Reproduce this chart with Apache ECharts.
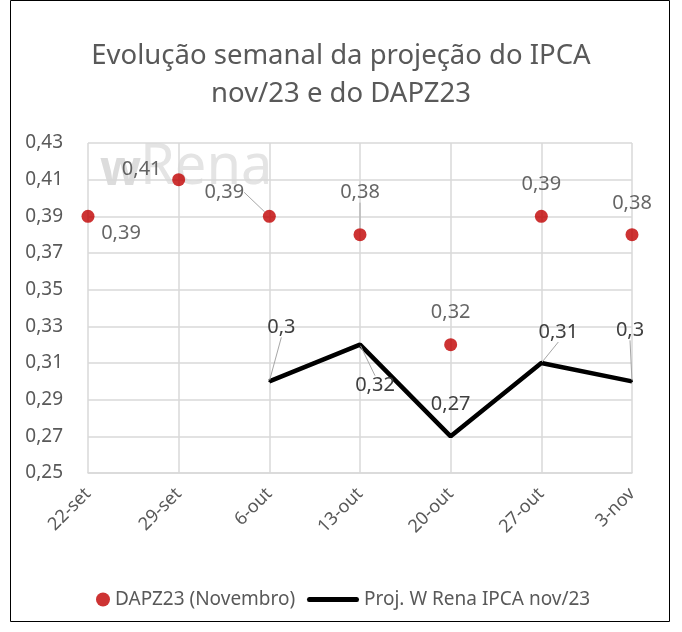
<!DOCTYPE html>
<html>
<head>
<meta charset="utf-8">
<script src="https://cdn.jsdelivr.net/npm/echarts@6/dist/echarts.min.js"></script>
<style>
  html, body { margin: 0; padding: 0; background: #fff; }
  #chart { width: 682px; height: 632px; }
</style>
</head>
<body>
<div id="chart"></div>
<script>
// dados
const semanas = ['22-set', '29-set', '6-out', '13-out', '20-out', '27-out', '3-nov'];
const dapz23 = [0.39, 0.41, 0.39, 0.38, 0.32, 0.39, 0.38];
const projRena = [null, null, 0.30, 0.32, 0.27, 0.31, 0.30];
const yTicks = [0.25, 0.27, 0.29, 0.31, 0.33, 0.35, 0.37, 0.39, 0.41, 0.43];

// deslocamento dos rótulos (estilo Excel) e linhas de chamada
const dapzLabelOffset = [[33, 17], [-37, -10], [-45, -24], [0, -42], [0, -32], [0, -32], [0, -31]];
const dapzLeader = [false, false, true, true, false, false, false];
const projLabelOffset = [null, null, [12, -54], [15, 41], [0, -32], [17, -31], [-2, -51]];
const projLeader = [false, false, true, true, false, true, true];

const fmt = v => String(v).replace('.', ',');
const FONT = 'Noto Sans';
const grey = '#595959';
const labelGrey = '#404040';

const chart = echarts.init(document.getElementById('chart'));

const option = {
  backgroundColor: '#fff',
  textStyle: { fontFamily: FONT },
  title: {
    text: 'Evolução semanal da projeção do IPCA\nnov/23 e do DAPZ23',
    left: 'center',
    top: 32,
    textStyle: { fontFamily: FONT, fontSize: 27.5, fontWeight: 'normal', color: grey, lineHeight: 38 }
  },
  graphic: [
    {
      type: 'rect', z: 100, silent: true,
      shape: { x: 10.5, y: 0.5, width: 659, height: 621 },
      style: { fill: 'none', stroke: '#000', lineWidth: 1 }
    },
    {
      type: 'text', z: 0, left: 100, top: 147, silent: true,
      style: { text: 'w', fontSize: 48, fontWeight: 'bold', fontFamily: FONT, fill: '#dcdcdc' }
    },
    {
      type: 'text', z: 0, left: 140, top: 140, silent: true,
      style: { text: 'Rena', fontSize: 56, fontFamily: FONT, fill: '#e4e4e4' }
    }
  ],
  grid: { left: 88, right: 50, top: 143, bottom: 159 },
  legend: [
    {
      left: 91,
      bottom: 18,
      itemWidth: 14,
      itemHeight: 14,
      itemGap: 8,
      textStyle: { fontFamily: FONT, fontSize: 19, color: grey },
      data: [{ name: 'DAPZ23 (Novembro)', icon: 'circle' }]
    },
    {
      left: 302,
      bottom: 18,
      itemWidth: 52,
      itemHeight: 14,
      itemGap: 4,
      textStyle: { fontFamily: FONT, fontSize: 19, color: grey },
      data: [{ name: 'Proj. W Rena IPCA nov/23', icon: 'path://M2,0 L48,0 Q50,0 50,2.5 Q50,5 48,5 L2,5 Q0,5 0,2.5 Q0,0 2,0 Z' }]
    }
  ],
  xAxis: {
    type: 'category',
    data: semanas,
    boundaryGap: false,
    axisLine: { lineStyle: { color: '#d9d9d9', width: 1.5 } },
    axisTick: { show: false },
    axisLabel: { rotate: 45, margin: 18, fontSize: 18, color: grey, fontFamily: FONT },
    splitLine: { show: true, lineStyle: { color: '#d9d9d9', width: 1.5 } }
  },
  yAxis: {
    type: 'value',
    min: 0.25,
    max: 0.43,
    axisLine: { show: false },
    axisTick: { show: false, customValues: yTicks },
    axisLabel: {
      customValues: yTicks,
      fontSize: 19, color: grey, fontFamily: FONT, margin: 25,
      formatter: v => v.toFixed(2).replace('.', ',')
    },
    splitLine: { show: true, lineStyle: { color: '#d9d9d9', width: 1.5 } }
  },
  series: [
    {
      name: 'DAPZ23 (Novembro)',
      type: 'scatter',
      symbol: 'circle',
      symbolSize: 13,
      itemStyle: { color: '#c00000' },
      data: dapz23.map((v, i) => ({ value: v, labelLine: { show: dapzLeader[i] } })),
      label: {
        show: true, position: 'inside', fontSize: 20, color: labelGrey, fontFamily: FONT,
        textBorderWidth: 0, textBorderColor: 'transparent',
        formatter: p => fmt(p.value)
      },
      labelLine: { show: true, lineStyle: { color: '#a6a6a6', width: 1 } },
      labelLayout: p => {
        const o = dapzLabelOffset[p.dataIndex] || [0, 0];
        return { dx: o[0], dy: o[1] };
      },
      z: 3
    },
    {
      name: 'Proj. W Rena IPCA nov/23',
      type: 'line',
      symbol: 'circle',
      symbolSize: 2,
      showSymbol: true,
      connectNulls: false,
      lineStyle: { color: '#000', width: 4.5 },
      itemStyle: { color: '#000' },
      data: projRena.map((v, i) => ({ value: v, labelLine: { show: projLeader[i] } })),
      label: {
        show: true, position: 'inside', fontSize: 20, color: labelGrey, fontFamily: FONT,
        textBorderWidth: 0, textBorderColor: 'transparent',
        formatter: p => (p.value == null ? '' : fmt(p.value))
      },
      labelLine: { show: true, lineStyle: { color: '#a6a6a6', width: 1 } },
      labelLayout: p => {
        const o = projLabelOffset[p.dataIndex] || [0, 0];
        return { dx: o[0], dy: o[1] };
      },
      z: 2
    }
  ]
};

chart.setOption(option);
</script>
</body>
</html>
